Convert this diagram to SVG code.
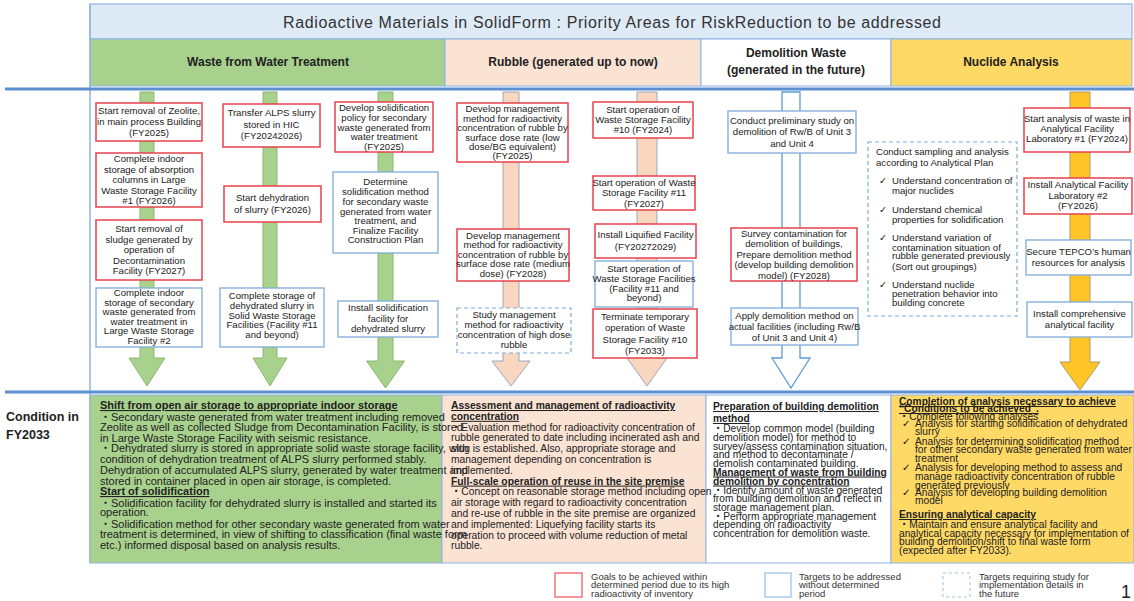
<svg xmlns="http://www.w3.org/2000/svg" width="1134" height="601" viewBox="0 0 1134 601">
<defs>
<style>
.t{font-family:"Liberation Sans",Arial,"DejaVu Sans","Noto Sans CJK JP",sans-serif;font-size:9.6px;fill:#222}
.c{text-anchor:middle}
.h{font-weight:bold;text-decoration:underline}
.b{font-family:"Liberation Sans",Arial,sans-serif;font-weight:bold;font-size:12px;fill:#222;text-anchor:middle}
.red{fill:#fff;stroke:#E8414C;stroke-width:1.5}
.blue{fill:#fff;stroke:#7EACD9;stroke-width:1.3}
.dash{fill:#fff;stroke:#7EACD9;stroke-width:1.2;stroke-dasharray:4 3}
.sec{stroke:#8EB4E3;stroke-width:1}
.ag{fill:#A9D18E;stroke:#8DB870;stroke-width:1}
.ap{fill:#F9D6BF;stroke:#9AA6BE;stroke-width:1}
.aw{fill:#fff;stroke:#5B9BD5;stroke-width:1.3}
.ay{fill:#FFC526;stroke:#A89A6A;stroke-width:1}
.sep{stroke:#5B8FD0;stroke-width:3}
.lg{font-size:9.5px;fill:#333}
</style>
</defs>
<rect x="0" y="0" width="1134" height="601" fill="#fff"/>

<g id="title">
<rect x="90" y="4" width="1042" height="35" fill="#DEEBF7" stroke="#8EB4E3" stroke-width="1.2"/>
<text x="612" y="28" font-family="'Liberation Sans',Arial,sans-serif" font-size="16" fill="#333" text-anchor="middle" textLength="658" lengthAdjust="spacing">Radioactive Materials in SolidForm : Priority Areas for RiskReduction to be addressed</text>
</g>

<g id="headers">
<rect class="sec" x="90" y="39" width="355" height="47" fill="#A9D18E"/>
<rect class="sec" x="445" y="39" width="256" height="47" fill="#FBE3D4"/>
<rect class="sec" x="701" y="39" width="190" height="47" fill="#fff"/>
<rect class="sec" x="891" y="39" width="241" height="47" fill="#FFD966"/>
<text class="b" x="268" y="66">Waste from Water Treatment</text>
<text class="b" x="573" y="66">Rubble (generated up to now)</text>
<text class="b" x="796" y="57">Demolition Waste</text>
<text class="b" x="796" y="74">(generated in the future)</text>
<text class="b" x="1011" y="66">Nuclide Analysis</text>
</g>

<g id="frame">
<line x1="90" y1="4" x2="90" y2="563" stroke="#8EB4E3" stroke-width="1.5"/>
<line class="sep" x1="5" y1="89" x2="1134" y2="89"/>
<line class="sep" x1="5" y1="392" x2="1134" y2="392"/>
</g>

<g id="arrows">
<path class="ag" d="M140 92H154V358H165L147 386L129 358H140Z"/>
<path class="ag" d="M263 92H277V358H287L270 386L253 358H263Z"/>
<path class="ag" d="M378 92H393V361H404.5L385.5 388L366.5 361H378Z"/>
<path class="ap" d="M503 92H519V361H530L511 386L492 361H503Z"/>
<path class="ap" d="M637 92H657V358H667L647 386L627 358H637Z"/>
<path class="aw" d="M782 92H800V358H810L791 388L772 358H782Z"/>
<path class="ay" d="M1070 92H1090V362H1100L1080 390L1060 362H1070Z"/>
</g>

<g id="n1"><rect class="red" x="96" y="103" width="106" height="38"/>
<text class="t c"><tspan x="149" y="114">Start removal of Zeolite,</tspan><tspan x="149" y="125">in main process Building</tspan><tspan x="149" y="136">(FY2025)</tspan></text></g>
<g id="n2"><rect class="red" x="96" y="153" width="106" height="54"/>
<text class="t c"><tspan x="149" y="162">Complete indoor</tspan><tspan x="149" y="172.5">storage of absorption</tspan><tspan x="149" y="183">columns in Large</tspan><tspan x="149" y="193.5">Waste Storage Facility</tspan><tspan x="149" y="204">#1 (FY2026)</tspan></text></g>
<g id="n3"><rect class="red" x="96" y="220" width="106" height="60"/>
<text class="t c"><tspan x="149" y="232">Start removal of</tspan><tspan x="149" y="242.5">sludge generated by</tspan><tspan x="149" y="253">operation of</tspan><tspan x="149" y="263.5">Decontamination</tspan><tspan x="149" y="274">Facility (FY2027)</tspan></text></g>
<g id="n4"><rect class="blue" x="96" y="288" width="106" height="59"/>
<text class="t c"><tspan x="149" y="296">Complete indoor</tspan><tspan x="149" y="305.5">storage of secondary</tspan><tspan x="149" y="315">waste generated from</tspan><tspan x="149" y="324.5">water treatment in</tspan><tspan x="149" y="334">Large Waste Storage</tspan><tspan x="149" y="343.5">Facility #2</tspan></text></g>

<g id="n5"><rect class="red" x="223" y="104" width="97" height="43"/>
<text class="t c"><tspan x="271.5" y="116">Transfer ALPS slurry</tspan><tspan x="271.5" y="127.5">stored in HIC</tspan><tspan x="271.5" y="139">(FY20242026)</tspan></text></g>
<g id="n6"><rect class="red" x="224" y="186" width="97" height="36"/>
<text class="t c"><tspan x="272.5" y="201">Start dehydration</tspan><tspan x="272.5" y="213">of slurry (FY2026)</tspan></text></g>
<g id="n7"><rect class="blue" x="220" y="288" width="104" height="59"/>
<text class="t c"><tspan x="272" y="299">Complete storage of</tspan><tspan x="272" y="309">dehydrated slurry in</tspan><tspan x="272" y="318.5">Solid Waste Storage</tspan><tspan x="272" y="328">Facilities (Facility #11</tspan><tspan x="272" y="337.5">and beyond)</tspan></text></g>

<g id="n8"><rect class="red" x="335" y="102" width="98" height="50"/>
<text class="t c"><tspan x="384" y="111">Develop solidification</tspan><tspan x="384" y="121">policy for secondary</tspan><tspan x="384" y="130.5">waste generated from</tspan><tspan x="384" y="140">water treatment</tspan><tspan x="384" y="150">(FY2025)</tspan></text></g>
<g id="n9"><rect class="blue" x="333" y="172" width="105" height="81"/>
<text class="t c"><tspan x="385.5" y="185">Determine</tspan><tspan x="385.5" y="195">solidification method</tspan><tspan x="385.5" y="205">for secondary waste</tspan><tspan x="385.5" y="214.5">generated from water</tspan><tspan x="385.5" y="224">treatment, and</tspan><tspan x="385.5" y="233.5">Finalize Facility</tspan><tspan x="385.5" y="243">Construction Plan</tspan></text></g>
<g id="n10"><rect class="blue" x="338" y="301" width="100" height="36"/>
<text class="t c"><tspan x="388" y="311">Install solidification</tspan><tspan x="388" y="321.5">facility for</tspan><tspan x="388" y="332">dehydrated slurry</tspan></text></g>

<g id="n11"><rect class="red" x="457" y="103" width="111" height="59"/>
<text class="t c"><tspan x="512.5" y="112">Develop management</tspan><tspan x="512.5" y="122">method for radioactivity</tspan><tspan x="512.5" y="131">concentration of rubble by</tspan><tspan x="512.5" y="140.5">surface dose rate (low</tspan><tspan x="512.5" y="150">dose/BG equivalent)</tspan><tspan x="512.5" y="159">(FY2025)</tspan></text></g>
<g id="n12"><rect class="red" x="457" y="229" width="112" height="52"/>
<text class="t c"><tspan x="513" y="238.5">Develop management</tspan><tspan x="513" y="248">method for radioactivity</tspan><tspan x="513" y="257.5">concentration of rubble by</tspan><tspan x="513" y="267">surface dose rate (medium</tspan><tspan x="513" y="276.5">dose) (FY2028)</tspan></text></g>
<g id="n13"><rect class="dash" x="457" y="308" width="114" height="45"/>
<text class="t c"><tspan x="514" y="318">Study management</tspan><tspan x="514" y="328">method for radioactivity</tspan><tspan x="514" y="338">concentration of high dose</tspan><tspan x="514" y="347.5">rubble</tspan></text></g>

<g id="n14"><rect class="red" x="593" y="102" width="100" height="36"/>
<text class="t c"><tspan x="643" y="112.5">Start operation of</tspan><tspan x="643" y="122.5">Waste Storage Facility</tspan><tspan x="643" y="132.5">#10 (FY2024)</tspan></text></g>
<g id="n15"><rect class="red" x="593" y="176" width="102" height="34"/>
<text class="t c"><tspan x="644" y="186">Start operation of Waste</tspan><tspan x="644" y="196">Storage Facility #11</tspan><tspan x="644" y="206.5">(FY2027)</tspan></text></g>
<g id="n16"><rect class="red" x="595" y="224" width="101" height="34"/>
<text class="t c"><tspan x="645.5" y="238">Install Liquified Facility</tspan><tspan x="645.5" y="249.5">(FY20272029)</tspan></text></g>
<g id="n17"><rect class="blue" x="595" y="261" width="98" height="46"/>
<text class="t c"><tspan x="644" y="271.5">Start operation of</tspan><tspan x="644" y="281.5">Waste Storage Facilities</tspan><tspan x="644" y="291.5">(Facility #11 and</tspan><tspan x="644" y="301">beyond)</tspan></text></g>
<g id="n18"><rect class="red" x="593" y="309" width="104" height="49"/>
<text class="t c"><tspan x="645" y="319.5">Terminate temporary</tspan><tspan x="645" y="331">operation of Waste</tspan><tspan x="645" y="342.5">Storage Facility #10</tspan><tspan x="645" y="354">(FY2033)</tspan></text></g>

<g id="n19"><rect class="blue" x="728" y="111" width="128" height="42"/>
<text class="t c"><tspan x="792" y="123.5">Conduct preliminary study on</tspan><tspan x="792" y="135">demolition of Rw/B of Unit 3</tspan><tspan x="792" y="146.5">and Unit 4</tspan></text></g>
<g id="n20"><rect class="red" x="731" y="228" width="126" height="53"/>
<text class="t c"><tspan x="794" y="237">Survey contamination for</tspan><tspan x="794" y="247">demolition of buildings,</tspan><tspan x="794" y="258">Prepare demolition method</tspan><tspan x="794" y="268">(develop building demolition</tspan><tspan x="794" y="278.5">model) (FY2028)</tspan></text></g>
<g id="n21"><rect class="blue" x="731" y="308" width="127" height="37"/>
<text class="t c"><tspan x="794.5" y="318.5">Apply demolition method on</tspan><tspan x="794.5" y="329.5">actual facilities (including Rw/B</tspan><tspan x="794.5" y="340.5">of Unit 3 and Unit 4)</tspan></text></g>

<g id="n22"><rect class="dash" x="868" y="142" width="149" height="174"/>
<text class="t"><tspan x="876" y="155">Conduct sampling and analysis</tspan><tspan x="876" y="166">according to Analytical Plan</tspan></text>
<text class="t"><tspan x="879" y="184">✓</tspan><tspan x="892" y="184">Understand concentration of</tspan><tspan x="892" y="194">major nuclides</tspan>
<tspan x="879" y="213">✓</tspan><tspan x="892" y="213">Understand chemical</tspan><tspan x="892" y="223">properties for solidification</tspan>
<tspan x="879" y="241">✓</tspan><tspan x="892" y="241">Understand variation of</tspan><tspan x="892" y="250.5">contamination situation of</tspan><tspan x="892" y="259">rubble generated previously</tspan><tspan x="892" y="269.5">(Sort out groupings)</tspan>
<tspan x="879" y="288">✓</tspan><tspan x="892" y="288">Understand nuclide</tspan><tspan x="892" y="297">penetration behavior into</tspan><tspan x="892" y="306">building concrete</tspan></text></g>

<g id="n23"><rect class="red" x="1024" y="108" width="106" height="44"/>
<text class="t c"><tspan x="1077" y="122">Start analysis of waste in</tspan><tspan x="1077" y="132">Analytical Facility</tspan><tspan x="1077" y="141.5">Laboratory #1 (FY2024)</tspan></text></g>
<g id="n24"><rect class="red" x="1024" y="178" width="108" height="36"/>
<text class="t c"><tspan x="1078" y="188">Install Analytical Facility</tspan><tspan x="1078" y="198.5">Laboratory #2</tspan><tspan x="1078" y="209">(FY2026)</tspan></text></g>
<g id="n25"><rect class="blue" x="1026" y="240" width="105" height="35"/>
<text class="t c"><tspan x="1078.5" y="255">Secure TEPCO’s human</tspan><tspan x="1078.5" y="266">resources for analysis</tspan></text></g>
<g id="n26"><rect class="blue" x="1027" y="302" width="105" height="35"/>
<text class="t c"><tspan x="1079.5" y="317">Install comprehensive</tspan><tspan x="1079.5" y="328">analytical facility</tspan></text></g>

<g id="condition">
<text font-family="'Liberation Sans',Arial,sans-serif" font-weight="bold" font-size="12.5" fill="#222"><tspan x="6" y="421">Condition in</tspan><tspan x="6" y="439">FY2033</tspan></text>
</g>

<g id="c-water">
<rect class="sec" x="90" y="395" width="352" height="168" fill="#A9D18E"/>
</g>
<g id="c-rubble">
<rect class="sec" x="442" y="395" width="264" height="168" fill="#FBE3D4"/>
</g>
<g id="c-demolition">
<rect class="sec" x="706" y="395" width="185" height="168" fill="#fff"/>
</g>
<g id="c-nuclide">
<rect class="sec" x="891" y="395" width="243" height="168" fill="#FFD966"/>
</g>

<g id="c-water-text">
<text class="t" style="font-size:11px"><tspan class="h" x="100" y="409">Shift from open air storage to appropriate indoor storage</tspan>
<tspan x="100" y="420.8">・Secondary waste generated from water treatment including removed</tspan>
<tspan x="100" y="431">Zeolite as well as collected Sludge from Decontamination Facility, is stored</tspan>
<tspan x="100" y="442">in Large Waste Storage Facility with seismic resistance.</tspan>
<tspan x="100" y="452">・Dehydrated slurry is stored in appropriate solid waste storage facility, with</tspan>
<tspan x="100" y="463">condition of dehydration treatment of ALPS slurry performed stably.</tspan>
<tspan x="100" y="473.5">Dehydration of accumulated ALPS slurry, generated by water treatment and</tspan>
<tspan x="100" y="484.5">stored in container placed in open air storage, is completed.</tspan>
<tspan class="h" x="100" y="495">Start of solidification</tspan>
<tspan x="100" y="506.5">・Solidification facility for dehydrated slurry is installed and started its</tspan>
<tspan x="100" y="516">operation.</tspan>
<tspan x="100" y="527.5">・Solidification method for other secondary waste generated from water</tspan>
<tspan x="100" y="537.5">treatment is determined, in view of shifting to classification (final waste form</tspan>
<tspan x="100" y="549">etc.) informed disposal based on analysis results.</tspan></text>
</g>

<g id="c-rubble-text">
<text class="t" style="font-size:10.3px"><tspan class="h" x="451" y="409">Assessment and management of radioactivity</tspan>
<tspan class="h" x="451" y="419.8">concentration</tspan>
<tspan x="451" y="430.6">・Evaluation method for radioactivity concentration of</tspan>
<tspan x="451" y="441.4">rubble generated to date including incinerated ash and</tspan>
<tspan x="451" y="452.2">slug is established. Also, appropriate storage and</tspan>
<tspan x="451" y="463">management depending on concentration is</tspan>
<tspan x="451" y="473.8">implemented.</tspan>
<tspan class="h" x="451" y="484.6">Full-scale operation of reuse in the site premise</tspan>
<tspan x="451" y="495.4">・Concept on reasonable storage method including open</tspan>
<tspan x="451" y="506.2">air storage with regard to radioactivity concentration</tspan>
<tspan x="451" y="517">and re-use of rubble in the site premise are organized</tspan>
<tspan x="451" y="527.8">and implemented: Liquefying facility starts its</tspan>
<tspan x="451" y="538.6">operation to proceed with volume reduction of metal</tspan>
<tspan x="451" y="549.4">rubble.</tspan></text>
</g>

<g id="c-demolition-text">
<text class="t" style="font-size:10.2px"><tspan class="h" x="713" y="410">Preparation of building demolition</tspan>
<tspan class="h" x="713" y="422">method</tspan>
<tspan x="713" y="432">・Develop common model (building</tspan>
<tspan x="713" y="441">demolition model) for method to</tspan>
<tspan x="713" y="449.5">survey/assess contamination situation,</tspan>
<tspan x="713" y="458">and method to decontaminate /</tspan>
<tspan x="713" y="466.5">demolish contaminated building.</tspan>
<tspan class="h" x="713" y="475.5">Management of waste from building</tspan>
<tspan class="h" x="713" y="484.5">demolition by concentration</tspan>
<tspan x="713" y="493.5">・Identify amount of waste generated</tspan>
<tspan x="713" y="502">from building demolition and reflect in</tspan>
<tspan x="713" y="510.5">storage management plan.</tspan>
<tspan x="713" y="519.5">・Perform appropriate management</tspan>
<tspan x="713" y="528">depending on radioactivity</tspan>
<tspan x="713" y="536.5">concentration for demolition waste.</tspan></text>
</g>

<g id="c-nuclide-text">
<text class="t" style="font-size:10.2px"><tspan class="h" x="899" y="405">Completion of analysis necessary to achieve</tspan>
<tspan class="h" x="899" y="412">“Conditions to be achieved”.</tspan>
<tspan x="899" y="420">・Complete following analyses</tspan>
<tspan x="902" y="427">✓</tspan><tspan x="915" y="427">Analysis for starting solidification of dehydrated</tspan>
<tspan x="915" y="435">slurry</tspan>
<tspan x="902" y="445">✓</tspan><tspan x="915" y="445">Analysis for determining solidification method</tspan>
<tspan x="915" y="453">for other secondary waste generated from water</tspan>
<tspan x="915" y="461.5">treatment</tspan>
<tspan x="902" y="471">✓</tspan><tspan x="915" y="471">Analysis for developing method to assess and</tspan>
<tspan x="915" y="480">manage radioactivity concentration of rubble</tspan>
<tspan x="915" y="488.5">generated previously</tspan>
<tspan x="902" y="496">✓</tspan><tspan x="915" y="496">Analysis for developing building demolition</tspan>
<tspan x="915" y="503.5">model</tspan>
<tspan class="h" x="899" y="518">Ensuring analytical capacity</tspan>
<tspan x="899" y="528">・Maintain and ensure analytical facility and</tspan>
<tspan x="899" y="536.5">analytical capacity necessary for implementation of</tspan>
<tspan x="899" y="545">building demolition/shift to final waste form</tspan>
<tspan x="899" y="554">(expected after FY2033).</tspan></text>
</g>

<g id="legend">
<rect x="555" y="573" width="27" height="24" fill="#fff" stroke="#E8616A" stroke-width="1.3"/>
<text class="t lg"><tspan x="591" y="579.5">Goals to be achieved within</tspan><tspan x="591" y="588">determined period due to its high</tspan><tspan x="591" y="596.5">radioactivity of inventory</tspan></text>
<rect x="765" y="573" width="26" height="24" fill="#fff" stroke="#9DC3E6" stroke-width="1.3"/>
<text class="t lg"><tspan x="799" y="579.5">Targets to be addressed</tspan><tspan x="799" y="588">without determined</tspan><tspan x="799" y="596.5">period</tspan></text>
<rect x="943" y="573" width="27" height="24" fill="#fff" stroke="#9DC3E6" stroke-width="1.1" stroke-dasharray="3 3"/>
<text class="t lg"><tspan x="979" y="579.5">Targets requiring study for</tspan><tspan x="979" y="588">implementation details in</tspan><tspan x="979" y="596.5">the future</tspan></text>
<text x="1121" y="598" font-family="'Liberation Sans',Arial,sans-serif" font-size="18" fill="#222">1</text>
</g>
</svg>
